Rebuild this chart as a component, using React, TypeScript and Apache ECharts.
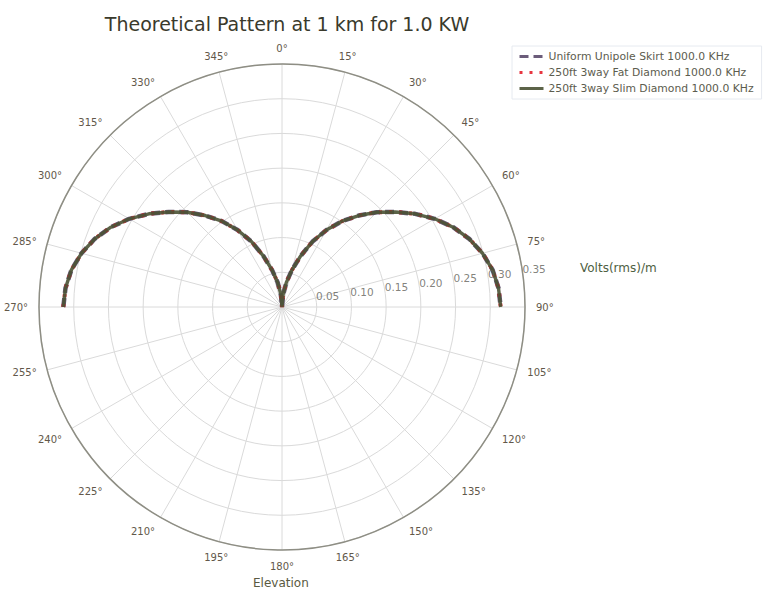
import React, { useEffect, useRef } from "react";
import * as echarts from "echarts";

const titleText = "Theoretical Pattern at 1 km for 1.0 KW";
const seriesNames = [
  "Uniform Unipole Skirt 1000.0 KHz",
  "250ft 3way Fat Diamond 1000.0 KHz",
  "250ft 3way Slim Diamond 1000.0 KHz",
];
const seriesColors = ["#5b4a6c", "#e4202c", "#4a5234"];

// elevation angles (deg, clockwise from top) and field strength (V/m)
const leftAngles = [270, 275, 280, 285, 290, 295, 300, 305, 310, 315, 320, 325, 330, 335, 340, 345, 350, 355, 360];
const leftValues = [0.315, 0.313, 0.308, 0.299, 0.287, 0.272, 0.254, 0.234, 0.213, 0.193, 0.172, 0.151, 0.128, 0.104, 0.078, 0.055, 0.036, 0.018, 0.0];
const rightAngles = [0, 5, 10, 15, 20, 25, 30, 35, 40, 45, 50, 55, 60, 65, 70, 75, 80, 85, 90];
const rightValues = [0.0, 0.018, 0.036, 0.055, 0.078, 0.104, 0.128, 0.151, 0.172, 0.193, 0.213, 0.234, 0.254, 0.272, 0.287, 0.299, 0.308, 0.313, 0.315];

const radialTicks = [0.05, 0.1, 0.15, 0.2, 0.25, 0.3, 0.35];
const radialLabelAngle = 82.5;

export default function App() {
  const ref = useRef<HTMLDivElement>(null);
  useEffect(() => {
    document.body.style.margin = "0";
    const chart = echarts.init(ref.current!, null, { renderer: "svg" });
    const pattern: [number, number][] = [];
    leftAngles.forEach((a, i) => pattern.push([leftValues[i], a]));
    rightAngles.forEach((a, i) => pattern.push([rightValues[i], a]));

    const font = "DejaVu Sans";
    const lineTypes: any[] = [[9, 5], [3, 7], "solid"];
    const widths = [4.5, 4, 3.4];

    chart.setOption({
      animation: false,
      textStyle: { fontFamily: font },
      title: {
        text: titleText,
        left: 282,
        top: 9,
        textAlign: "center",
        textStyle: { fontSize: 19, fontWeight: "normal", color: "#3a3a2c", fontFamily: font },
      },
      legend: {
        data: seriesNames,
        orient: "vertical",
        left: 512,
        top: 46,
        itemWidth: 24,
        itemHeight: 10,
        itemGap: 5,
        padding: [5, 8, 5, 6],
        borderColor: "#e6eaf0",
        borderWidth: 1,
        itemStyle: { opacity: 0 },
        lineStyle: { width: 3 },
        textStyle: { fontSize: 10.8, color: "#5c5c4e", fontFamily: font },
      },
      polar: { center: [282, 307], radius: 243 },
      angleAxis: {
        type: "value",
        min: 0,
        max: 360,
        interval: 15,
        startAngle: 90,
        clockwise: true,
        axisLine: { show: true, lineStyle: { color: "#8e8e84", width: 1.5 } },
        axisTick: { show: false },
        axisLabel: {
          margin: 11,
          fontSize: 10,
          color: "#62584a",
          fontFamily: font,
          formatter: (v: number) => (v === 360 ? "" : v + "°"),
        },
        splitLine: { show: true, lineStyle: { color: "#dadada", width: 1 } },
      },
      radiusAxis: {
        type: "value",
        min: 0,
        max: 0.35,
        interval: 0.05,
        axisLine: { show: false },
        axisTick: { show: false },
        axisLabel: { show: false },
        splitLine: { show: true, lineStyle: { color: "#dadada", width: 1 } },
      },
      graphic: [
        {
          type: "text",
          left: 580,
          top: 262,
          style: { text: "Volts(rms)/m", font: `12px "${font}"`, fill: "#4e6042" },
        },
        {
          type: "text",
          left: 253,
          top: 577,
          style: { text: "Elevation", font: `12px "${font}"`, fill: "#5a5a42" },
        },
      ],
      series: [
        ...seriesNames.map((name, i) => ({
          name,
          type: "line",
          coordinateSystem: "polar",
          data: pattern,
          showSymbol: false,
          symbol: "none",
          color: seriesColors[i],
          lineStyle: { color: seriesColors[i], width: widths[i], type: lineTypes[i], opacity: 0.9 },
          z: 3 + i,
        })),
        {
          name: "radial-labels",
          type: "scatter",
          coordinateSystem: "polar",
          symbolSize: 1,
          itemStyle: { color: "rgba(0,0,0,0)" },
          silent: true,
          data: radialTicks.map((r) => [r, radialLabelAngle]),
          label: {
            show: true,
            position: [0, 0],
            align: "left",
            verticalAlign: "bottom",
            fontSize: 10.5,
            color: "#62625a",
            fontFamily: font,
            formatter: (p: any) => p.value[0].toFixed(2),
          },
          z: 10,
        },
      ],
    });
    return () => chart.dispose();
  }, []);
  return <div ref={ref} style={{ width: 765, height: 593, position: "absolute", left: 0, top: 0 }} />;
}
